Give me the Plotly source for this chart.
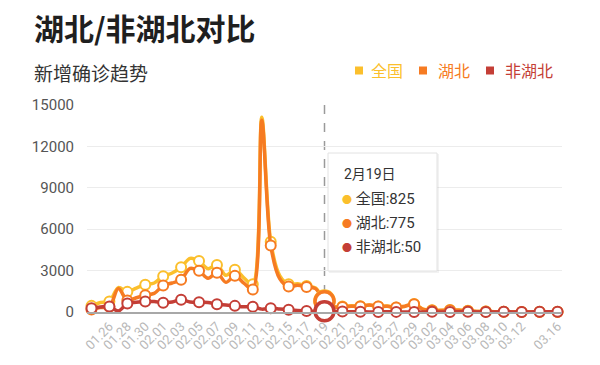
import plotly.graph_objects as go

# ---------------- data ----------------
dates = ['01.24', '01.25', '01.26', '01.27', '01.28', '01.29', '01.30', '01.31',
         '02.01', '02.02', '02.03', '02.04', '02.05', '02.06', '02.07', '02.08',
         '02.09', '02.10', '02.11', '02.12', '02.13', '02.14', '02.15', '02.16',
         '02.17', '02.18', '02.19', '02.20', '02.21', '02.22', '02.23', '02.24',
         '02.25', '02.26', '02.27', '02.28', '02.29', '03.01', '03.02', '03.03',
         '03.04', '03.05', '03.06', '03.07', '03.08', '03.09', '03.10', '03.11',
         '03.12', '03.13', '03.14', '03.15', '03.16']

national = [444, 688, 769, 1771, 1459, 1737, 1982, 2102,
            2590, 2829, 3235, 3887, 3694, 3143, 3399, 2656,
            3062, 2478, 2015, 14108, 5090, 2641, 2009, 2048,
            1886, 1749, 825, 400, 397, 450, 409, 508,
            406, 433, 327, 427, 573, 202, 125, 119,
            139, 143, 99, 44, 40, 19, 24, 15,
            8, 11, 20, 16, 21]

hubei = [180, 323, 371, 1700, 840, 1032, 1220, 1347,
         1921, 2103, 2345, 3156, 2987, 2447, 2841, 2147,
         2618, 2097, 1638, 13900, 4823, 2420, 1843, 1933,
         1807, 1693, 775, 370, 366, 420, 398, 499,
         401, 409, 318, 423, 570, 196, 114, 115,
         134, 126, 74, 41, 36, 17, 13, 8,
         5, 4, 4, 4, 1]

non_hubei = [264, 365, 398, 71, 619, 705, 762, 755,
             669, 726, 890, 731, 707, 696, 558, 509,
             444, 381, 377, 208, 267, 221, 166, 115,
             79, 56, 50, 30, 31, 18, 11, 9,
             5, 24, 9, 4, 3, 6, 11, 4,
             5, 17, 25, 3, 4, 2, 11, 7,
             3, 7, 16, 12, 20]

tick_labels = ['01.26', '01.28', '01.30', '02.01', '02.03', '02.05', '02.07',
               '02.09', '02.11', '02.13', '02.15', '02.17', '02.19', '02.21',
               '02.23', '02.25', '02.27', '02.29', '03.02', '03.04', '03.06',
               '03.08', '03.10', '03.12', '03.16']

y_ticks = [0, 3000, 6000, 9000, 12000, 15000]
series_names = ['全国', '湖北', '非湖北']
hover_date = '02.19'
hover_label = '2月19日'
title_text = '湖北/非湖北对比'
subtitle_text = '新增确诊趋势'

# ---------------- style ----------------
colors = ['#FBBF2C', '#F67B22', '#C43E36']
FONT = 'Roboto, "Noto Sans CJK SC", sans-serif'
CJK = '"Noto Sans CJK SC", sans-serif'

W, H = 600, 365
L, R, T, B = 87, 38, 105, 53


def px(x):
    return (x - L) / (W - L - R)


def py(y):
    return (H - B - y) / (H - T - B)


fig = go.Figure()

all_series = [national, hubei, non_hubei]
for name, vals, c in zip(series_names, all_series, colors):
    fig.add_trace(go.Scatter(
        x=dates, y=vals, mode='lines', name=name,
        line=dict(color=c, width=3.5, shape='spline', smoothing=0.9),
        showlegend=False, hoverinfo='skip'))
    fig.add_trace(go.Scatter(
        x=dates[::2], y=vals[::2], mode='markers', name=name,
        marker=dict(size=10, color='white', line=dict(color=c, width=2)),
        showlegend=False, hoverinfo='skip', cliponaxis=False))

hi = dates.index(hover_date)
for vals, c in zip(all_series, colors):
    fig.add_trace(go.Scatter(
        x=[dates[hi]], y=[vals[hi]], mode='markers',
        marker=dict(size=19, color='white', line=dict(color=c, width=3.5)),
        showlegend=False, hoverinfo='skip', cliponaxis=False))

shapes = []
# axis pointer (dashed)
shapes.append(dict(type='line', xref='x', yref='y', x0=hi, x1=hi,
                   y0=y_ticks[0], y1=y_ticks[-1], layer='below',
                   line=dict(color='#9a9a9a', width=1.5, dash='dash')))
# tooltip box (shadow + box)
shapes.append(dict(type='rect', xref='paper', yref='paper',
                   x0=px(329), x1=px(439), y0=py(273), y1=py(154),
                   fillcolor='rgba(0,0,0,0.05)', line=dict(width=0), layer='above'))
shapes.append(dict(type='rect', xref='paper', yref='paper',
                   x0=px(328), x1=px(437), y0=py(271), y1=py(153),
                   fillcolor='white', line=dict(color='#e2e2e2', width=1), layer='above'))
# legend squares
for cx, c in zip([359, 423, 490], colors):
    shapes.append(dict(type='rect', xref='paper', yref='paper',
                       x0=px(cx - 4), x1=px(cx + 4), y0=py(74.5), y1=py(66.5),
                       fillcolor=c, line=dict(width=0)))

ann = []
ann.append(dict(xref='paper', yref='paper', x=px(32), y=py(27), xanchor='left', yanchor='middle',
                text='<b>' + title_text + '</b>', showarrow=False,
                font=dict(family=CJK, size=30, color='#1f1f1f')))
ann.append(dict(xref='paper', yref='paper', x=px(32), y=py(72), xanchor='left', yanchor='middle',
                text=subtitle_text, showarrow=False,
                font=dict(family=CJK, size=19, color='#333333')))
for tx, name, c in zip([369, 436, 503], series_names, colors):
    ann.append(dict(xref='paper', yref='paper', x=px(tx), y=py(70), xanchor='left', yanchor='middle',
                    text=name, showarrow=False,
                    font=dict(family=CJK, size=16, color=c)))

# tooltip content
ann.append(dict(xref='paper', yref='paper', x=px(342), y=py(174), xanchor='left', yanchor='middle',
                text=hover_label, showarrow=False,
                font=dict(family=FONT, size=14, color='#333333')))
for yy, name, vals, c in zip([199, 223, 247], series_names, all_series, colors):
    ann.append(dict(xref='paper', yref='paper', x=px(340), y=py(yy), xanchor='left', yanchor='middle',
                    text='<span style="color:%s;font-size:10px">●</span> %s:%d' % (c, name, vals[hi]),
                    showarrow=False,
                    font=dict(family=FONT, size=15, color='#333333')))

fig.update_layout(
    width=W, height=H,
    margin=dict(l=L, r=R, t=T, b=B),
    paper_bgcolor='white', plot_bgcolor='white',
    showlegend=False,
    shapes=shapes, annotations=ann,
    xaxis=dict(type='category', categoryorder='array', categoryarray=dates,
               range=[-0.5, len(dates) - 0.5],
               tickmode='array', tickvals=tick_labels, ticktext=tick_labels,
               tickangle=-45, tickfont=dict(family=FONT, size=13, color='#b8b8b8'),
               showgrid=False, showline=True, linecolor='#a8a8a8', linewidth=1.5,
               ticks='', zeroline=False, fixedrange=True),
    yaxis=dict(range=[y_ticks[0], y_ticks[-1]], tickmode='array', tickvals=y_ticks,
               ticktext=[str(v) for v in y_ticks],
               tickfont=dict(family=FONT, size=15, color='#555555'),
               showgrid=True, gridcolor='#ececec', gridwidth=1,
               zeroline=False, showline=False, ticks='', ticklabelstandoff=12,
               fixedrange=True),
)

fig.write_html('out.html', config={'displayModeBar': False},
               post_script="document.body.style.margin='0';")
